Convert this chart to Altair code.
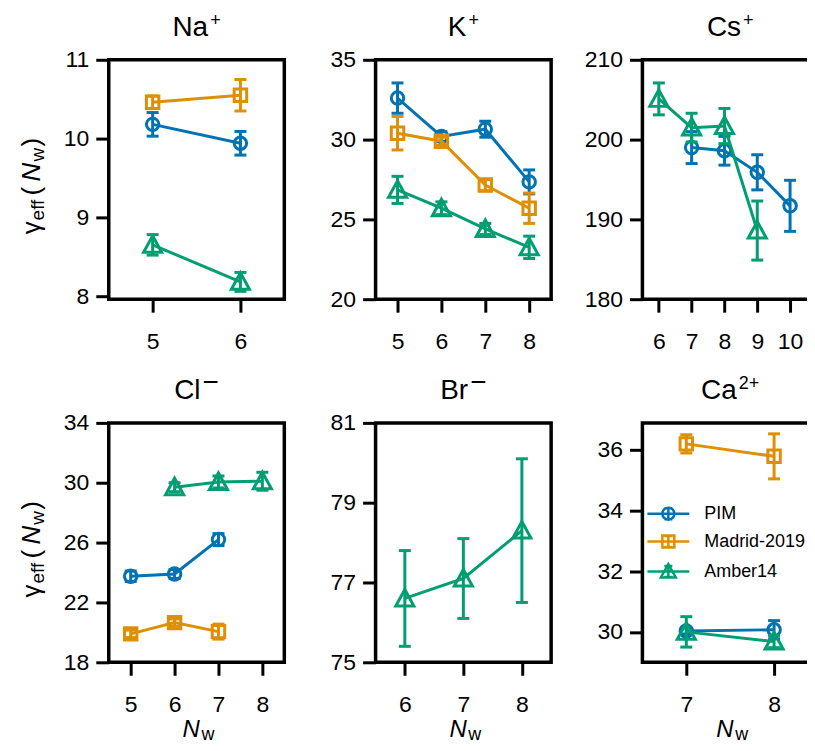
import altair as alt
import pandas as pd

SERIES = ["PIM", "Madrid-2019", "Amber14"]
COLORS = ["#0173B2", "#DE8F05", "#029E73"]
FONT = "Liberation Sans"

# ---------------- data ----------------
# Na+
na_pim_nw = [5, 6]; na_pim = [10.18, 9.94]; na_pim_err = [0.15, 0.15]
na_mad_nw = [5, 6]; na_mad = [10.46, 10.55]; na_mad_err = [0.08, 0.20]
na_amb_nw = [5, 6]; na_amb = [8.65, 8.18]; na_amb_err = [0.13, 0.12]
# K+
k_nw = [5, 6, 7, 8]
k_pim = [32.6, 30.2, 30.65, 27.35]; k_pim_err = [0.95, 0.3, 0.5, 0.75]
k_mad = [30.4, 29.9, 27.15, 25.7]; k_mad_err = [1.05, 0.25, 0.35, 0.95]
k_amb = [26.85, 25.7, 24.4, 23.25]; k_amb_err = [0.85, 0.4, 0.35, 0.7]
# Cs+
cs_pim_nw = [7, 8, 9, 10]; cs_pim = [199.0, 198.6, 195.9, 191.7]; cs_pim_err = [2.0, 1.8, 2.2, 3.2]
cs_amb_nw = [6, 7, 8, 9]; cs_amb = [205.1, 201.5, 201.7, 188.6]; cs_amb_err = [2.0, 1.8, 2.2, 3.7]
# Cl-
cl_pim_nw = [5, 6, 7]; cl_pim = [23.75, 23.9, 26.2]; cl_pim_err = [0.35, 0.3, 0.4]
cl_mad_nw = [5, 6, 7]; cl_mad = [19.9, 20.65, 20.05]; cl_mad_err = [0.25, 0.25, 0.5]
cl_amb_nw = [6, 7, 8]; cl_amb = [29.7, 30.05, 30.1]; cl_amb_err = [0.3, 0.4, 0.6]
# Br-
br_amb_nw = [6, 7, 8]; br_amb = [76.6, 77.1, 78.3]; br_amb_err = [1.2, 1.0, 1.8]
# Ca2+
ca_nw = [7, 8]
ca_pim = [30.03, 30.07]; ca_pim_err = [0.1, 0.3]
ca_mad = [36.18, 35.77]; ca_mad_err = [0.3, 0.74]
ca_amb = [30.0, 29.68]; ca_amb_err = [0.5, 0.2]

# ---------------- styling ----------------
W, H = 176, 240
LW = 3
MARKERS = {
    "PIM": "M1,0A1,1 0 1,1 -1,0A1,1 0 1,1 1,0Z",
    "Madrid-2019": "M-1,-1H1V1H-1Z",
    "Amber14": "M0,-1.45L1.45,1.2L-1.45,1.2Z",
}
LEG_BASE = "M-4.2,0H4.2M0,-1.1V1.1M-0.8,-1.1H0.8M-0.8,1.1H0.8"
LEG_SYMBOLS = [
    LEG_BASE + "M1.2,0A1.2,1.2 0 1,1 -1.2,0A1.2,1.2 0 1,1 1.2,0Z",
    LEG_BASE + "M-1.2,-1.2H1.2V1.2H-1.2Z",
    LEG_BASE + "M0,-1.5L1.5,1.2L-1.5,1.2Z",
]
CW = {"N": .722, "a": .556, "K": .667, "C": .722, "s": .5, "l": .222,
      "B": .667, "r": .333, "+": .584, "\u2212": .584, "2": .556}
COLOR_OF = dict(zip(SERIES, COLORS))


def make_df(entries):
    rows = []
    for s, nws, vals, errs in entries:
        for n, v, e in zip(nws, vals, errs):
            rows.append({"series": s, "nw": n, "val": v, "lo": v - e, "hi": v + e})
    return pd.DataFrame(rows)


def one():
    return alt.Chart(pd.DataFrame({"k": [0]}))


def txt(text, x, y, size, angle=0, italic=False, align="left"):
    return one().mark_text(
        text=text, font=FONT, fontSize=size, angle=angle, align=align,
        baseline="alphabetic", fontStyle="italic" if italic else "normal",
        color="black",
    ).encode(x=alt.value(x), y=alt.value(y))


def title_layers(base, sup, sup_size, raise_):
    wb = sum(CW[c] for c in base) * 28
    ws = sum(CW[c] for c in sup) * sup_size
    x0 = W / 2 - (wb + ws + 2) / 2
    return [txt(base, x0, -24, 28), txt(sup, x0 + wb + 2, -24 - raise_, sup_size)]


def ytitle_layers():
    c = H / 2 + 3
    xm, xs = -69, -65
    return [
        txt("\u03b3", xm, c + 52, 26, angle=270),
        txt("eff", xs, c + 38, 19, angle=270),
        txt("(", xm, c + 13, 26, angle=270),
        txt("N", xm, c - 1, 26, angle=270, italic=True),
        txt("w", xs, c - 21, 19, angle=270),
        txt(")", xm, c - 36, 26, angle=270),
    ]


def xtitle_layers():
    return [txt("N", W / 2 - 14, H + 75, 24, italic=True),
            txt("w", W / 2 + 5, H + 77.5, 18)]


def rule_anchor(x1, x2, y1, y2):
    # invisible anchor that pins the chart's outer bounds (page layout)
    return one().mark_rule(stroke="white", strokeWidth=1).encode(
        x=alt.value(x1), x2=alt.value(x2), y=alt.value(y1), y2=alt.value(y2))


legend = alt.Legend(
    title=None, orient="none", legendX=552, legendY=446,
    labelFont=FONT, labelFontSize=18, labelColor="black",
    symbolSize=100, symbolStrokeWidth=2.5, symbolFillColor="transparent",
    symbolOpacity=1, labelOffset=27, rowPadding=6, padding=0,
)


def panel(spec):
    df = make_df(spec["entries"])
    xs = alt.Scale(domain=spec["xdom"], nice=False, zero=False)
    ys = alt.Scale(domain=spec["ydom"], nice=False, zero=False)
    xax = alt.Axis(values=spec["xticks"], title=None, format="d")
    yax = alt.Axis(values=spec["yticks"], title=None, format="d")
    X = alt.X("nw:Q", scale=xs, axis=xax)
    layers = []
    for s in SERIES:
        sub = df[df.series == s]
        if sub.empty:
            continue
        col = COLOR_OF[s]
        base = alt.Chart(sub)
        layers.append(base.mark_rule(strokeWidth=LW, color=col).encode(
            x=X, y=alt.Y("lo:Q", scale=ys, axis=yax), y2="hi:Q"))
        for f in ("lo", "hi"):
            layers.append(base.mark_rule(strokeWidth=LW, color=col, xOffset=-6, x2Offset=6).encode(
                x=X, x2="nw:Q", y=alt.Y(f"{f}:Q", scale=ys, axis=yax)))
        layers.append(base.mark_line(strokeWidth=LW, color=col).encode(
            x=X, y=alt.Y("val:Q", scale=ys, axis=yax)))
        layers.append(base.mark_point(shape=MARKERS[s], filled=False, size=156,
                                      strokeWidth=LW, opacity=1, color=col).encode(
            x=X, y=alt.Y("val:Q", scale=ys, axis=yax)))
    if spec.get("legend"):
        layers.append(alt.Chart(df).transform_filter("false").mark_point(
            filled=False, size=100, strokeWidth=2.5, opacity=1).encode(
            x=X,
            y=alt.Y("val:Q", scale=ys, axis=yax),
            color=alt.Color("series:N", scale=alt.Scale(domain=SERIES, range=COLORS), legend=legend),
            shape=alt.Shape("series:N", scale=alt.Scale(domain=SERIES, range=LEG_SYMBOLS), legend=legend),
        ))
    layers += title_layers(*spec["title"])
    if spec.get("ytitle"):
        layers += ytitle_layers()
    if spec.get("xtitle"):
        layers += xtitle_layers()
    layers += spec.get("extra", [])
    return alt.layer(*layers).properties(width=W, height=H)


specs = [
    dict(title=("Na", "+", 18, 10), xdom=[4.5, 6.5], xticks=[5, 6], ydom=[7.96, 11], yticks=[8, 9, 10, 11],
         entries=[("PIM", na_pim_nw, na_pim, na_pim_err), ("Madrid-2019", na_mad_nw, na_mad, na_mad_err),
                  ("Amber14", na_amb_nw, na_amb, na_amb_err)], ytitle=True,
         extra=[rule_anchor(-110, -110, 0, 1), rule_anchor(0, 1, -65, -65)]),
    dict(title=("K", "+", 18, 10), xdom=[4.5, 8.5], xticks=[5, 6, 7, 8], ydom=[20, 35], yticks=[20, 25, 30, 35],
         entries=[("PIM", k_nw, k_pim, k_pim_err), ("Madrid-2019", k_nw, k_mad, k_mad_err),
                  ("Amber14", k_nw, k_amb, k_amb_err)]),
    dict(title=("Cs", "+", 18, 10), xdom=[5.5, 10.85], xticks=[6, 7, 8, 9, 10], ydom=[180, 210],
         yticks=[180, 190, 200, 210],
         entries=[("PIM", cs_pim_nw, cs_pim, cs_pim_err), ("Amber14", cs_amb_nw, cs_amb, cs_amb_err)]),
    dict(title=("Cl", "\u2212", 28, 8), xdom=[4.5, 8.5], xticks=[5, 6, 7, 8], ydom=[18, 34],
         yticks=[18, 22, 26, 30, 34],
         entries=[("PIM", cl_pim_nw, cl_pim, cl_pim_err), ("Madrid-2019", cl_mad_nw, cl_mad, cl_mad_err),
                  ("Amber14", cl_amb_nw, cl_amb, cl_amb_err)], ytitle=True, xtitle=True,
         extra=[rule_anchor(0, 1, H + 100, H + 100)]),
    dict(title=("Br", "\u2212", 28, 8), xdom=[5.5, 8.5], xticks=[6, 7, 8], ydom=[75, 81], yticks=[75, 77, 79, 81],
         entries=[("Amber14", br_amb_nw, br_amb, br_amb_err)], xtitle=True),
    dict(title=("Ca", "2+", 18, 10), xdom=[6.5, 8.5], xticks=[7, 8], ydom=[29.0, 36.87], yticks=[30, 32, 34, 36],
         entries=[("PIM", ca_nw, ca_pim, ca_pim_err), ("Madrid-2019", ca_nw, ca_mad, ca_mad_err),
                  ("Amber14", ca_nw, ca_amb, ca_amb_err)], xtitle=True, legend=True),
]

panels = [panel(s) for s in specs]

chart = alt.concat(*panels, columns=3, spacing={"row": 124, "column": 91.5}, bounds="flush").properties(
    padding={"left": -12, "top": -17, "right": -13, "bottom": -19}
).configure_view(
    stroke="black", strokeWidth=3.5
).configure_axis(
    domain=False, grid=False, tickColor="black", tickWidth=3, tickSize=13,
    labelFont=FONT, labelFontSize=23, labelColor="black", labelPadding=18,
    labelFlush=False, labelOverlap=False, labelBound=False,
).configure_axisY(labelPadding=7)

chart.save("out.html", embed_options={"renderer": "svg", "actions": False})
